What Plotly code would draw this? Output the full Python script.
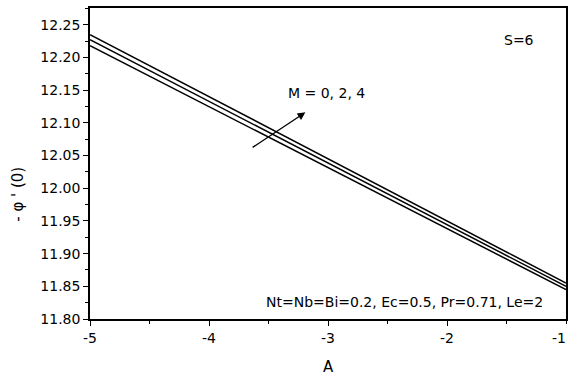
import plotly.graph_objects as go

# Data
A_vals = [-5, -4, -3, -2, -1]
phi_M0 = [12.218, 12.125, 12.032, 11.938, 11.845]
phi_M2 = [12.227, 12.133, 12.039, 11.944, 11.850]
phi_M4 = [12.235, 12.140, 12.045, 11.950, 11.855]
series = [("M=0", phi_M0), ("M=2", phi_M2), ("M=4", phi_M4)]

x_ticks = [-5, -4, -3, -2, -1]
x_ticktext = ["-5", "-4", "-3", "-2", "-1"]
y_ticks = [11.80, 11.85, 11.90, 11.95, 12.00, 12.05, 12.10, 12.15, 12.20, 12.25]
y_ticktext = ["11.80", "11.85", "11.90", "11.95", "12.00", "12.05", "12.10", "12.15", "12.20", "12.25"]

FONT = "DejaVu Sans, Liberation Sans, Arial, sans-serif"
FS = 14

fig = go.Figure()
for name, ys in series:
    fig.add_trace(go.Scatter(x=A_vals, y=ys, mode="lines", name=name,
                             line=dict(color="black", width=1.5), showlegend=False))

fig.update_layout(
    width=570, height=376,
    margin=dict(l=90, r=2, t=8, b=57),
    paper_bgcolor="white", plot_bgcolor="white",
    font=dict(family=FONT, size=FS, color="black"),
    showlegend=False,
)

fig.update_xaxes(
    range=[-5, -1], tickvals=x_ticks[:-1], ticktext=x_ticktext[:-1],
    showgrid=False, zeroline=False,
    showline=True, linecolor="black", linewidth=1.5, mirror=True,
    ticks="outside", ticklen=5, tickwidth=1.2, tickcolor="black",
    minor=dict(ticks="outside", ticklen=3, tickwidth=1.2, tickcolor="black", dtick=0.5, showgrid=False),
    tickfont=dict(size=FS),
)
fig.update_yaxes(
    range=[11.80, 12.2756], tickvals=y_ticks, ticktext=y_ticktext,
    showgrid=False, zeroline=False,
    showline=True, linecolor="black", linewidth=1.5, mirror=True,
    ticks="outside", ticklen=5, tickwidth=1.2, tickcolor="black",
    minor=dict(ticks="outside", ticklen=3, tickwidth=1.2, tickcolor="black", dtick=0.025, tick0=11.8, showgrid=False),
    tickfont=dict(size=FS),
)

# last x tick label, kept just inside the page edge
fig.add_annotation(text=x_ticktext[-1], x=1.004, xref="paper", yref="paper", y=-0.028,
                   showarrow=False, xanchor="right", yanchor="top", font=dict(size=FS))

# Axis titles
fig.add_annotation(text="A", xref="paper", yref="paper", x=0.5, y=-0.155,
                   showarrow=False, font=dict(size=15), xanchor="center", yanchor="middle")
fig.add_annotation(text="- φ ' (0)", xref="paper", yref="paper", x=-0.153, y=0.40,
                   showarrow=False, textangle=-90, font=dict(size=15), xanchor="center", yanchor="middle")

# Arrow and labels
fig.add_annotation(x=-3.19, y=12.116, ax=-3.646, ay=12.061, xref="x", yref="y",
                   axref="x", ayref="y", showarrow=True, arrowhead=2, arrowsize=1.2,
                   arrowwidth=1.3, arrowcolor="black", text="")
fig.add_annotation(text="M = 0, 2, 4", x=-3.35, y=12.146, xref="x", yref="y",
                   showarrow=False, xanchor="left", yanchor="middle", font=dict(size=FS))
fig.add_annotation(text="S=6", x=-1.541, y=12.227, xref="x", yref="y",
                   showarrow=False, xanchor="left", yanchor="middle", font=dict(size=FS))
fig.add_annotation(text="Nt=Nb=Bi=0.2, Ec=0.5, Pr=0.71, Le=2", x=-3.534, y=11.826,
                   xref="x", yref="y", showarrow=False, xanchor="left", yanchor="middle",
                   font=dict(size=FS))

fig.write_html("out.html")
